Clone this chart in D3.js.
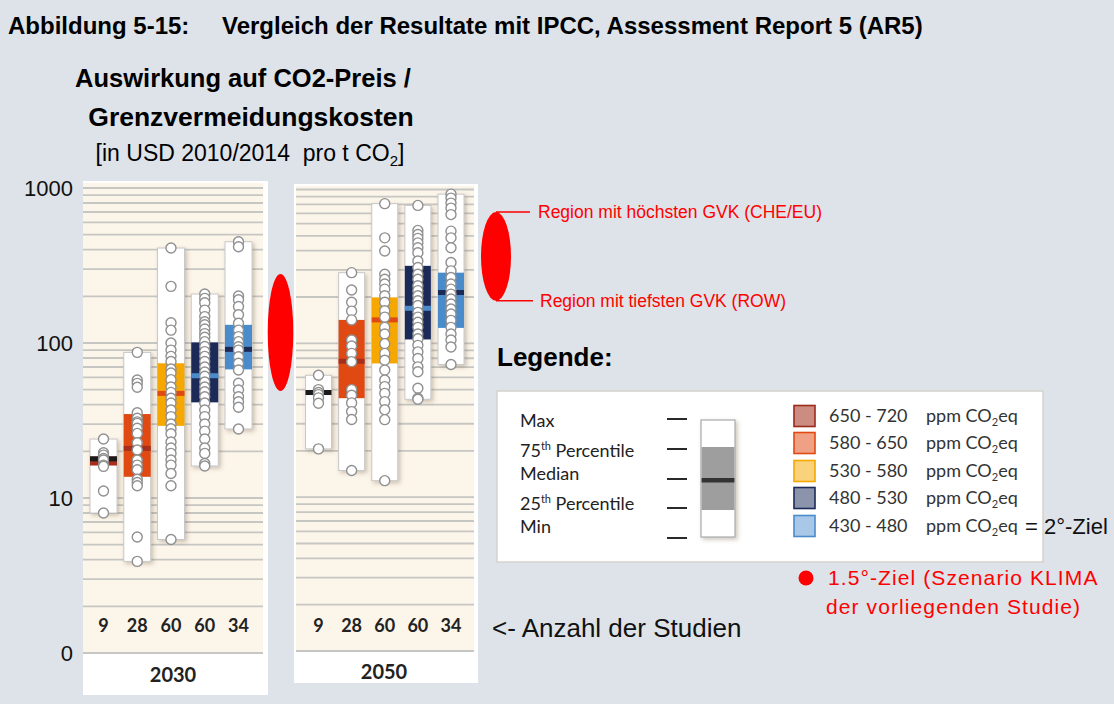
<!DOCTYPE html>
<html>
<head>
<meta charset="utf-8">
<script src="https://cdn.jsdelivr.net/npm/d3@7"></script>
<style>
body { margin: 0; background: #dde3e8; }
svg { display: block; }
</style>
</head>
<body>
<svg id="chart"></svg>
<script>
// concentration categories, one column per category in each year
var categories = ["650 - 720", "580 - 650", "530 - 580", "480 - 530", "430 - 480"];
var counts = [9, 28, 60, 60, 34];
var yTicks = [1, 10, 100, 1000];
var yTickLabels = ["0", "10", "100", "1000"];

// 2030 : USD / t CO2
var max2030 = [24, 87, 410, 207, 450];
var q3_2030 = [18.5, 34.8, 74, 101, 131];
var med2030 = [17.9, 20.9, 47.3, 61.5, 91];
var q1_2030 = [16.2, 13.7, 29.2, 41.4, 67.6];
var min2030 = [8.0, 3.9, 5.4, 16.1, 27.9];
var points2030 = [
  [24, 19.6, 18.9, 18, 17.6, 16.3, 16, 11.1, 8.0],
  [87, 57.7, 54.9, 51.8, 35.5, 32.7, 31, 30.3, 28.2, 26.1, 22.7, 20.4, 17.6, 16.3, 15.2, 13.2, 12.6, 12, 5.6, 3.9],
  [410, 232, 135, 121, 100, 90, 82, 76, 68, 64, 58, 52, 48, 44, 41, 37, 33.5, 30, 28, 26, 23, 21, 19.4, 17.6, 16.3, 14.4, 12, 5.4],
  [207, 194, 182, 163, 148, 137, 131, 123, 115, 109, 102, 95, 88, 82, 76, 70, 65, 61, 56, 52, 48.5, 45, 41, 37, 33.5, 30, 27, 24, 21, 19.4, 16.7, 16.1],
  [450, 418, 201, 190, 172, 152, 134, 121, 110, 102, 94.6, 90, 81.6, 74, 67, 55, 49.8, 45, 41.8, 38.5, 27.9]
];

// 2050
var max2050 = [62, 288, 809, 788, 933];
var q3_2050 = [47.9, 142, 199, 319, 288];
var med2050 = [47.9, 76.5, 142, 169, 214];
var q1_2050 = [47.9, 44, 74, 106, 126];
var min2050 = [20.6, 14.9, 12.8, 43.3, 72.9];
var points2050 = [
  [62, 50, 47.9, 46.4, 44.2, 40.8, 20.6],
  [288, 222, 185, 162, 142, 105, 96, 86, 76, 50, 46, 41, 36, 32, 14.9],
  [809, 485, 398, 281, 261, 243, 225, 204, 185, 163, 148, 127, 115, 99.5, 86, 77.6, 67, 57.7, 52.3, 47.3, 41.8, 37, 31.9, 12.8],
  [788, 542, 510, 481, 450, 418, 388, 343, 311, 281, 261, 237, 220, 204, 189, 176, 159, 148, 137, 127, 115, 107, 97, 88, 79.7, 70.3, 65.3, 51, 44, 43.3],
  [933, 879, 816, 757, 687, 536, 485, 418, 335, 296, 268, 243, 225, 209, 194, 180, 167, 155, 141, 127, 115, 105, 94.6, 72.9]
];

// range of the KLIMA scenario (lowest / highest region)
var klima2030 = [49, 279];
var klima2050 = [189, 714];

var boxFill = ["#a52f1c", "#e04a12", "#f6a800", "#1c2a58", "#4a8bcb"];
var medFill = ["#1a1a1a", "#a52f1c", "#e04a12", "#4a8bcb", "#1c2a58"];
var swatchFill = ["#cc8c82", "#f0a084", "#fbd27c", "#8c94ac", "#a9c8e8"];
var swatchStroke = ["#9c2a1c", "#e04a12", "#f6a800", "#1c2a58", "#4a8bcb"];
var legendStats = ["Max", "75th Percentile", "Median", "25th Percentile", "Min"];

var width = 1114, height = 704;
var svg = d3.select("#chart").attr("width", width).attr("height", height);

svg.append("rect").attr("width", width).attr("height", height).attr("fill", "#dde3e8");

var defs = svg.append("defs");
var f = defs.append("filter").attr("id", "shadow").attr("x", "-30%").attr("y", "-5%").attr("width", "170%").attr("height", "115%");
f.append("feDropShadow").attr("dx", 2).attr("dy", 2).attr("stdDeviation", 2)
  .attr("flood-color", "#6d5a3a").attr("flood-opacity", 0.35);

var titleFont = "'Liberation Sans', Arial, sans-serif";
var calFont = "Lato, 'Open Sans', sans-serif";

// titles
svg.append("text").attr("x", 8).attr("y", 34)
  .attr("font-family", titleFont).attr("font-weight", "bold").attr("font-size", 24)
  .text("Abbildung 5-15:");
svg.append("text").attr("x", 222).attr("y", 34)
  .attr("font-family", titleFont).attr("font-weight", "bold").attr("font-size", 24)
  .text("Vergleich der Resultate mit IPCC, Assessment Report 5 (AR5)");

svg.append("text").attr("x", 243).attr("y", 87).attr("text-anchor", "middle")
  .attr("font-family", titleFont).attr("font-weight", "bold").attr("font-size", 25.5)
  .text("Auswirkung auf CO2-Preis /");
svg.append("text").attr("x", 251).attr("y", 126).attr("text-anchor", "middle")
  .attr("font-family", titleFont).attr("font-weight", "bold").attr("font-size", 26.5)
  .text("Grenzvermeidungskosten");
var unit = svg.append("text").attr("x", 250).attr("y", 161).attr("text-anchor", "middle")
  .attr("font-family", titleFont).attr("font-size", 23);
unit.append("tspan").text("[in USD 2010/2014\u00a0 pro t CO");
unit.append("tspan").attr("font-size", 15).attr("dy", 5).text("2");
unit.append("tspan").attr("dy", -5).text("]");

var panels = [
  { year: "2030", x0: 83, x1: 268, tanX1: 263, top: 181, bottom: 695, yr: [653, 188], cx: [103.5, 238.5], bw: 27,
    max: max2030, q3: q3_2030, med: med2030, q1: q1_2030, min: min2030, pts: points2030, klima: klima2030, kx: 280.5, krx: 12.8, yearY: 675 },
  { year: "2050", x0: 294, x1: 478, tanX1: 474, top: 184, bottom: 683, yr: [651, 189.5], cx: [318.5, 451], bw: 26,
    max: max2050, q3: q3_2050, med: med2050, q1: q1_2050, min: min2050, pts: points2050, klima: klima2050, kx: 496, krx: 15, yearY: 672 }
];

var gridValues = [];
[1, 10, 100].forEach(function(d) {
  for (var k = 1; k < 10; k++) gridValues.push(k * d);
});
gridValues.push(1000);

panels.forEach(function(p, pi) {
  var y = d3.scaleLog().domain([1, 1000]).range(p.yr);
  var x = d3.scalePoint().domain(categories).range(p.cx);
  var g = svg.append("g");

  g.append("rect").attr("x", p.x0).attr("y", p.top).attr("width", p.x1 - p.x0).attr("height", p.bottom - p.top)
    .attr("fill", "#ffffff");
  g.append("rect").attr("x", p.x0 + (pi ? 2 : 0)).attr("y", p.top + 2).attr("width", p.tanX1 - p.x0 - (pi ? 2 : 0))
    .attr("height", y(1) - p.top - 2).attr("fill", "#fcf5ea");

  g.selectAll("line.grid").data(gridValues).enter().append("line")
    .attr("class", "grid")
    .attr("x1", p.x0 + (pi ? 2 : 0)).attr("x2", p.tanX1)
    .attr("y1", function(d) { return y(d); }).attr("y2", function(d) { return y(d); })
    .attr("stroke", "#c6c6c3").attr("stroke-width", 1.8);

  var cols = g.selectAll("g.col").data(categories).enter().append("g").attr("class", "col");

  cols.append("rect")
    .attr("x", function(d) { return x(d) - p.bw / 2; })
    .attr("y", function(d, i) { return y(p.max[i]); })
    .attr("width", p.bw)
    .attr("height", function(d, i) { return y(p.min[i]) - y(p.max[i]); })
    .attr("fill", "#ffffff").attr("stroke", "#c8c8c8").attr("stroke-width", 1)
    .attr("filter", "url(#shadow)");

  cols.append("rect")
    .attr("x", function(d) { return x(d) - p.bw / 2; })
    .attr("y", function(d, i) { return y(p.q3[i]); })
    .attr("width", p.bw)
    .attr("height", function(d, i) { return y(p.q1[i]) - y(p.q3[i]); })
    .attr("fill", function(d, i) { return boxFill[i]; });

  cols.append("rect")
    .attr("x", function(d) { return x(d) - p.bw / 2; })
    .attr("y", function(d, i) { return y(p.med[i]) - 2.5; })
    .attr("width", p.bw).attr("height", 5)
    .attr("fill", function(d, i) { return medFill[i]; });

  cols.each(function(d, i) {
    d3.select(this).selectAll("circle").data(p.pts[i]).enter().append("circle")
      .attr("cx", x(d))
      .attr("cy", function(v) { return y(v); })
      .attr("r", 5)
      .attr("fill", "#ffffff").attr("stroke", "#909090").attr("stroke-width", 1.4);
  });

  g.selectAll("text.count").data(counts).enter().append("text")
    .attr("class", "count")
    .attr("x", function(d, i) { return x(categories[i]); })
    .attr("y", 632)
    .attr("text-anchor", "middle")
    .attr("font-family", calFont).attr("font-weight", "bold").attr("font-size", 18).attr("fill", "#222")
    .text(function(d) { return d; });

  g.append("text").attr("x", (p.x0 + p.tanX1) / 2).attr("y", p.yearY + 7)
    .attr("text-anchor", "middle")
    .attr("font-family", calFont).attr("font-weight", "bold").attr("font-size", 20).attr("fill", "#222")
    .text(p.year);

  // KLIMA scenario range as red ellipse
  svg.append("ellipse")
    .attr("cx", p.kx)
    .attr("cy", (y(p.klima[0]) + y(p.klima[1])) / 2)
    .attr("rx", p.krx)
    .attr("ry", (y(p.klima[0]) - y(p.klima[1])) / 2)
    .attr("fill", "#ff0000");

  if (pi === 0) {
    var axis = d3.axisLeft(y).tickValues(yTicks).tickSize(0).tickPadding(0)
      .tickFormat(function(d, i) { return yTickLabels[i]; });
    var ax = svg.append("g").attr("transform", "translate(73,0)").call(axis);
    ax.select(".domain").remove();
    ax.selectAll("text").attr("font-family", titleFont).attr("font-size", 22).attr("fill", "#111");
  } else {
    // annotation lines for the 2050 ellipse
    var yHi = y(p.klima[1]), yLo = y(p.klima[0]);
    svg.append("line").attr("x1", p.kx).attr("x2", 530).attr("y1", yHi).attr("y2", yHi)
      .attr("stroke", "#ff0000").attr("stroke-width", 1.5);
    svg.append("line").attr("x1", p.kx).attr("x2", 533).attr("y1", yLo).attr("y2", yLo)
      .attr("stroke", "#ff0000").attr("stroke-width", 1.5);
    svg.append("text").attr("x", 538).attr("y", yHi + 6)
      .attr("font-family", titleFont).attr("font-size", 17.5).attr("fill", "#ff0000")
      .text("Region mit höchsten GVK (CHE/EU)");
    svg.append("text").attr("x", 540).attr("y", yLo + 6)
      .attr("font-family", titleFont).attr("font-size", 17.5).attr("fill", "#ff0000")
      .text("Region mit tiefsten GVK (ROW)");
  }
});

svg.append("text").attr("x", 492).attr("y", 637)
  .attr("font-family", titleFont).attr("font-size", 26).attr("fill", "#111")
  .text("<- Anzahl der Studien");

// legend
svg.append("text").attr("x", 497).attr("y", 366)
  .attr("font-family", titleFont).attr("font-weight", "bold").attr("font-size", 26)
  .text("Legende:");

svg.append("rect").attr("x", 497).attr("y", 391).attr("width", 546).attr("height", 171)
  .attr("fill", "#ffffff").attr("stroke", "#d6d2cc").attr("stroke-width", 1.5);

var statY = [421, 451, 474, 504, 527];
var dashY = [419, 449, 479, 508, 538];
legendStats.forEach(function(s, i) {
  var t = svg.append("text").attr("x", 520).attr("y", statY[i] + 6)
    .attr("font-family", calFont).attr("font-size", 18).attr("fill", "#222");
  var m = s.match(/^(\d+)(th)(.*)$/);
  if (m) {
    t.append("tspan").text(m[1]);
    t.append("tspan").attr("font-size", 11).attr("dy", -7).text(m[2]);
    t.append("tspan").attr("dy", 7).text(m[3]);
  } else {
    t.text(s);
  }
});
svg.selectAll("line.dash").data(dashY).enter().append("line")
  .attr("x1", 667).attr("x2", 687)
  .attr("y1", function(d) { return d; }).attr("y2", function(d) { return d; })
  .attr("stroke", "#111").attr("stroke-width", 1.8);

svg.append("rect").attr("x", 701).attr("y", 420).attr("width", 34).attr("height", 117)
  .attr("fill", "#ffffff").attr("stroke", "#aaaaaa").attr("stroke-width", 1.2).attr("filter", "url(#shadow)");
svg.append("rect").attr("x", 701.6).attr("y", 447).attr("width", 32.8).attr("height", 63).attr("fill", "#9e9e9e");
svg.append("rect").attr("x", 701.6).attr("y", 478).attr("width", 32.8).attr("height", 4.5).attr("fill", "#333333");

var swY = [416, 443, 471, 498, 526];
categories.forEach(function(c, i) {
  svg.append("rect").attr("x", 794).attr("y", swY[i] - 10.5).attr("width", 21).attr("height", 21)
    .attr("fill", swatchFill[i]).attr("stroke", swatchStroke[i]).attr("stroke-width", 1.6);
  svg.append("text").attr("x", 829).attr("y", swY[i] + 6)
    .attr("font-family", calFont).attr("font-size", 18).attr("fill", "#333").text(c);
  var t = svg.append("text").attr("x", 926).attr("y", swY[i] + 6)
    .attr("font-family", calFont).attr("font-size", 18).attr("fill", "#333");
  t.append("tspan").text("ppm CO");
  t.append("tspan").attr("font-size", 11).attr("dy", 4).text("2");
  t.append("tspan").attr("dy", -4).text("eq");
});
svg.append("text").attr("x", 1025).attr("y", 534)
  .attr("font-family", titleFont).attr("font-size", 22).attr("fill", "#111")
  .text("= 2°-Ziel");

svg.append("circle").attr("cx", 806).attr("cy", 578).attr("r", 7.5).attr("fill", "#ff0000");
svg.append("text").attr("x", 828).attr("y", 585)
  .attr("font-family", titleFont).attr("font-size", 21).attr("letter-spacing", 1.1).attr("fill", "#ff0000")
  .text("1.5°-Ziel (Szenario KLIMA");
svg.append("text").attr("x", 826).attr("y", 614)
  .attr("font-family", titleFont).attr("font-size", 21).attr("letter-spacing", 1.1).attr("fill", "#ff0000")
  .text("der vorliegenden Studie)");
</script>
</body>
</html>
